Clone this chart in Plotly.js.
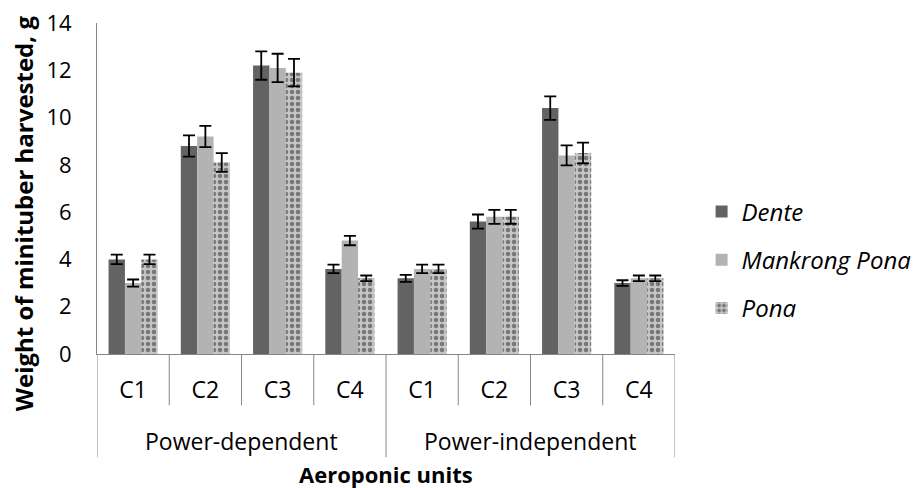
<!DOCTYPE html>
<html>
<head>
<meta charset="utf-8">
<script src="https://cdn.plot.ly/plotly-3.0.1.min.js"></script>
<style>html,body{margin:0;padding:0;background:#fff}#chart{width:914px;height:488px}</style>
</head>
<body>
<div id="chart"></div>
<script>
const groups = ["Power-dependent","Power-dependent","Power-dependent","Power-dependent",
                "Power-independent","Power-independent","Power-independent","Power-independent"];
const units = ["C1","C2","C3","C4","C1","C2","C3","C4"];
const dente = [4.0, 8.8, 12.2, 3.6, 3.2, 5.6, 10.4, 3.0];
const denteErr = [0.2, 0.45, 0.6, 0.18, 0.15, 0.3, 0.5, 0.12];
const mankrong = [3.0, 9.2, 12.1, 4.8, 3.6, 5.8, 8.4, 3.2];
const mankrongErr = [0.15, 0.45, 0.6, 0.2, 0.18, 0.3, 0.42, 0.12];
const pona = [4.0, 8.1, 11.9, 3.2, 3.6, 5.8, 8.5, 3.2];
const ponaErr = [0.2, 0.4, 0.58, 0.12, 0.18, 0.3, 0.44, 0.12];

const FONT = "'Open Sans', Lato, sans-serif";
const AXC = '#868686';
const idx = units.map((_, i) => i);
function errStyle(arr){return {type:'data', array:arr, visible:true, color:'#000', thickness:1.8, width:6};}

const traces = [
  {type:'bar', name:'Dente', x:idx, y:dente, error_y:errStyle(denteErr), legendgroup:'a',
   marker:{color:'#636363'}},
  {type:'bar', name:'Mankrong Pona', x:idx, y:mankrong, error_y:errStyle(mankrongErr), legendgroup:'b',
   marker:{color:'#b3b3b3'}},
  {type:'bar', name:'Pona', x:idx, y:pona, error_y:errStyle(ponaErr), legendgroup:'c',
   marker:{color:'#c0c0c0', pattern:{shape:'.', fgcolor:'#777777', bgcolor:'#c6c6c6', size:6, solidity:0.45}}}
];

// divider lines between categories (axis decoration), longer ones at group boundaries
const shapes = [];
for (let i = 0; i <= units.length; i++) {
  const isGroupEdge = (i === 0 || i === units.length || groups[i] !== groups[i-1]);
  shapes.push({type:'line', xref:'x', yref:'paper', x0:i-0.5, x1:i-0.5, y0:0,
               y1: isGroupEdge ? -0.312 : -0.155, line:{color:AXC, width:1}});
}
const annotations = [];
const uniqGroups = [...new Set(groups)];
uniqGroups.forEach(g => {
  const ids = idx.filter(i => groups[i] === g);
  const cx = (ids[0] + ids[ids.length-1]) / 2;
  annotations.push({xref:'x', yref:'paper', x:cx, y:-0.264, yanchor:'middle', showarrow:false,
                    text:g, font:{family:FONT, size:23, color:'#000'}});
});
annotations.push({xref:'paper', yref:'paper', x:0.5, y:-0.362, yanchor:'middle', showarrow:false,
                  text:'<b>Aeroponic units</b>', font:{family:FONT, size:22, color:'#000'}});
annotations.push({xref:'paper', yref:'paper', x:-0.126, y:0.426, xanchor:'center', yanchor:'middle',
                  textangle:-90, showarrow:false,
                  text:'<b>Weight of minituber harvested, g</b>', font:{family:FONT, size:24, color:'#000'}});

const layout = {
  width:914, height:488,
  margin:{l:97, r:239, t:23, b:134, autoexpand:false},
  paper_bgcolor:'#fff', plot_bgcolor:'#fff',
  font:{family:FONT, size:22, color:'#000'},
  barmode:'group', bargap:0.32, bargroupgap:0,
  showlegend:true,
  legend:{x:1.046, y:0.284, xanchor:'left', yanchor:'middle', font:{family:FONT, size:24, style:'italic'},
          tracegroupgap:14, itemsizing:'constant'},
  shapes:shapes, annotations:annotations,
  xaxis:{range:[-0.5, units.length-0.5], tickvals:idx, ticktext:units, ticks:'',
         showline:true, linecolor:AXC, linewidth:1, ticklabelstandoff:15,
         tickfont:{family:FONT, size:23, color:'#000'},
         showgrid:false, zeroline:false, automargin:false},
  yaxis:{range:[0,14], dtick:2, showline:true, linecolor:AXC, linewidth:1,
         ticks:'outside', ticklen:20, tickcolor:'rgba(0,0,0,0)', showgrid:false, zeroline:false,
         tickfont:{family:FONT, size:22, color:'#000'}, automargin:false},
  yaxis2:{overlaying:'y', side:'left', range:[0,14], dtick:2, showline:false, showgrid:false,
          zeroline:false, ticks:'outside', ticklen:6, tickcolor:AXC, showticklabels:false,
          automargin:false}
};

Plotly.newPlot('chart', traces, layout, {displayModeBar:false, staticPlot:true});
</script>
</body>
</html>
